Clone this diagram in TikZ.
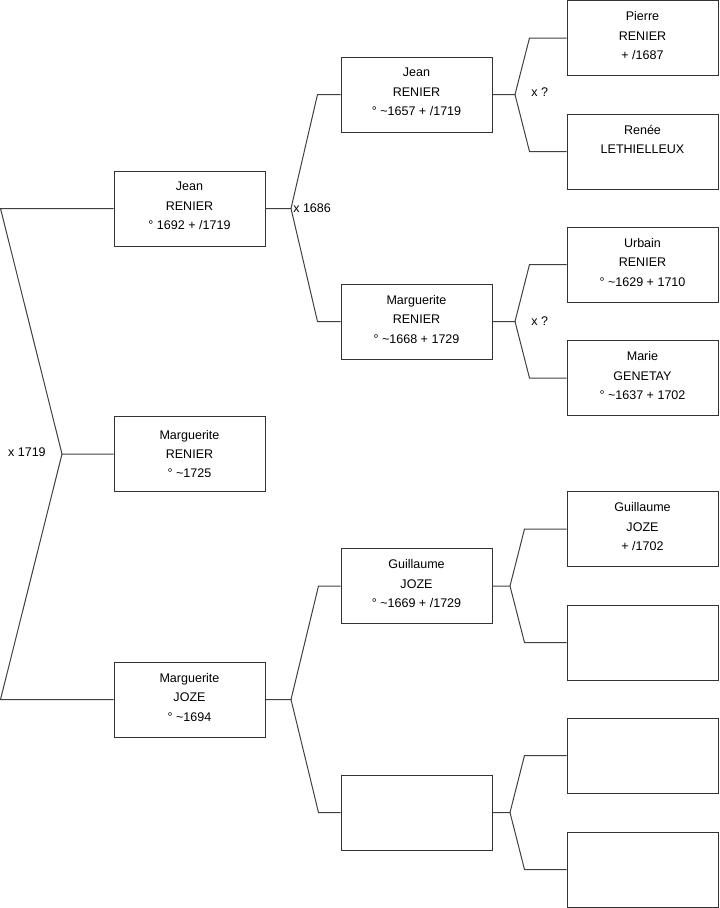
\documentclass[tikz,border=0pt]{standalone}
\usepackage{fontspec}
\setmainfont{Liberation Sans}
\usepackage{tikz}
\usetikzlibrary{positioning}

\begin{document}
\begin{tikzpicture}[
        x=0.75pt, y=-0.75pt,
        box/.style={draw=black!80, line width=0.75pt, minimum width=113.25pt, minimum height=56.25pt, inner sep=0pt, align=center, font=\fontsize{9.4}{14.6}\selectfont},
        lbl/.style={inner sep=0pt, font=\fontsize{9.4}{11}\selectfont},
        link/.style={draw=black!75, line width=0.75pt}
    ]
    \useasboundingbox (0,0) rectangle (719,908);
    % generation 1
    \node[box] (jean1) at (189.5,208.5) {Jean \\ RENIER \\ ° 1692 + /1719 \\[-11pt] \mbox{}};
    \node[box] (margR) at (189.5,454) {Marguerite \\ RENIER \\ ° \textasciitilde1725};
    \node[box] (margJ) at (189.5,699.5) {Marguerite \\ JOZE \\ ° \textasciitilde1694 \\[-11pt] \mbox{}};
    % generation 2
    \node[box] (jeanF) at (416.5,94.5) {Jean \\ RENIER \\ ° \textasciitilde1657 + /1719 \\[-11pt] \mbox{}};
    \node[box] (margF) at (416.5,321.5) {Marguerite \\ RENIER \\ ° \textasciitilde1668 + 1729 \\[-11pt] \mbox{}};
    \node[box] (guilF) at (416.5,586) {Guillaume \\ JOZE \\ ° \textasciitilde1669 + /1729 \\[-11pt] \mbox{}};
    \node[box] (inconnuF) at (416.5,812.5) {};
    % generation 3
    \node[box] (pierre) at (642.5,38) {Pierre \\ RENIER \\ + /1687 \\[-11pt] \mbox{}};
    \node[box] (renee) at (642.5,151.5) {Renée \\ LETHIELLEUX \\ \mbox{} \\[-11pt] \mbox{}};
    \node[box] (urbain) at (642.5,264.5) {Urbain \\ RENIER \\ ° \textasciitilde1629 + 1710 \\[-11pt] \mbox{}};
    \node[box] (marie) at (642.5,378) {Marie \\ GENETAY \\ ° \textasciitilde1637 + 1702 \\[-11pt] \mbox{}};
    \node[box] (guil) at (642.5,529) {Guillaume \\ JOZE \\ + /1702 \\[-11pt] \mbox{}};
    \node[box] (vide1) at (642.5,642.5) {};
    \node[box] (vide2) at (642.5,755.5) {};
    \node[box] (vide3) at (642.5,869.5) {};
    % junctions
    \coordinate (x1719) at (62,454);
    \coordinate (x1686) at (291,208.5);
    \coordinate (xJoze) at (291,699.5);
    \coordinate (xRenier) at (515,94.5);
    \coordinate (xGenetay) at (515,321.5);
    \coordinate (xGuil) at (510,586);
    \coordinate (xVide) at (510,812.5);
    \node[lbl, left=12pt of x1719, yshift=1pt] (l1719) {x 1719};
    \node[lbl, right=1.5pt of x1686] (l1686) {x 1686};
    \node[lbl, right=12pt of xRenier, yshift=2pt] (lRenier) {x ?};
    \node[lbl, right=12pt of xGenetay] (lGenetay) {x ?};
    % forks
    \draw[link] (jean1.west) -- ++(-113,0) -- (x1719) -- (margR.west);
    \draw[link] (margJ.west) -- ++(-113,0) -- (x1719);
    \draw[link] (jeanF.west) -- ++(-23,0) -- (x1686) -- (jean1.east);
    \draw[link] (margF.west) -- ++(-23,0) -- (x1686);
    \draw[link] (guilF.west) -- ++(-22,0) -- (xJoze) -- (margJ.east);
    \draw[link] (inconnuF.west) -- ++(-22,0) -- (xJoze);
    \draw[link] (pierre.west) -- ++(-37,0) -- (xRenier) -- (jeanF.east);
    \draw[link] (renee.west) -- ++(-37,0) -- (xRenier);
    \draw[link] (urbain.west) -- ++(-37,0) -- (xGenetay) -- (margF.east);
    \draw[link] (marie.west) -- ++(-37,0) -- (xGenetay);
    \draw[link] (guil.west) -- ++(-42,0) -- (xGuil) -- (guilF.east);
    \draw[link] (vide1.west) -- ++(-42,0) -- (xGuil);
    \draw[link] (vide2.west) -- ++(-42,0) -- (xVide) -- (inconnuF.east);
    \draw[link] (vide3.west) -- ++(-42,0) -- (xVide);
\end{tikzpicture}
\end{document}
